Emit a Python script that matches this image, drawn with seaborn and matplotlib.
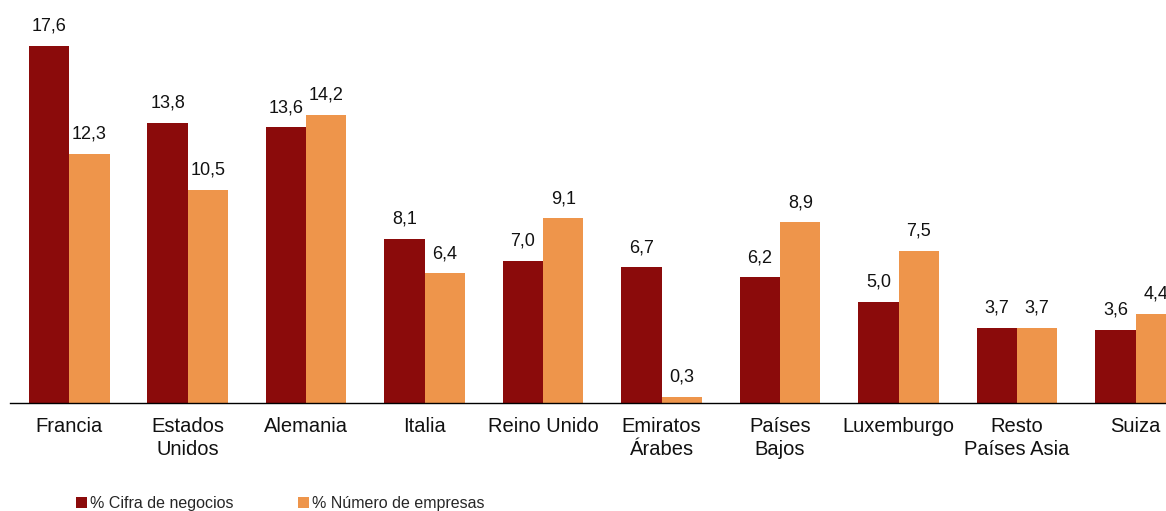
import matplotlib
matplotlib.use("Agg")
import matplotlib.pyplot as plt
import pandas as pd
import seaborn as sns

# ── Data ──────────────────────────────────────────────────────────────────────
categories = ["Francia", "Estados\nUnidos", "Alemania", "Italia", "Reino Unido",
              "Emiratos\nÁrabes", "Países\nBajos", "Luxemburgo", "Resto\nPaíses Asia", "Suiza"]
cifra_negocios = [17.6, 13.8, 13.6, 8.1, 7.0, 6.7, 6.2, 5.0, 3.7, 3.6]
numero_empresas = [12.3, 10.5, 14.2, 6.4, 9.1, 0.3, 8.9, 7.5, 3.7, 4.4]
series_names = ["% Cifra de negocios", "% Número de empresas"]

PALETTE = {series_names[0]: "#8B0B0B", series_names[1]: "#EE954B"}

df = pd.DataFrame({
    "pais": categories * 2,
    "valor": cifra_negocios + numero_empresas,
    "serie": [series_names[0]] * len(categories) + [series_names[1]] * len(categories),
})

# ── Plot ──────────────────────────────────────────────────────────────────────
sns.set_theme(style="white")
plt.rcParams["font.family"] = ["Liberation Sans", "DejaVu Sans"]

fig = plt.figure(figsize=(11.66, 5.11), dpi=100)
ax = fig.add_axes([10 / 1166, 108 / 511, 1156 / 1166, 403 / 511])

sns.barplot(data=df, x="pais", y="valor", hue="serie", order=categories,
            hue_order=series_names, palette=PALETTE, width=0.68, gap=0,
            saturation=1, linewidth=0, ax=ax, legend=True)

for cont in ax.containers:
    ax.bar_label(cont, labels=[f"{v:.1f}".replace(".", ",") for v in cont.datavalues],
                 padding=8, fontsize=13, color="#111111")

ax.set_xlim(-0.5, 9.257)
ax.set_ylim(0, 19.87)
ax.set_xlabel("")
ax.set_ylabel("")
ax.set_yticks([])
ax.tick_params(axis="x", length=0, pad=10, labelsize=14.5, colors="#111111")
for lbl in ax.get_xticklabels():
    lbl.set_linespacing(1.25)
for side in ["top", "left", "right"]:
    ax.spines[side].set_visible(False)
ax.spines["bottom"].set_color("black")
ax.spines["bottom"].set_linewidth(1.0)

ax.legend(loc="lower left", bbox_to_anchor=(66 / 1156, -108 / 403), ncol=2,
          frameon=False, fontsize=11.5, handlelength=0.7, handleheight=0.7,
          handletextpad=0.2, columnspacing=4.0, borderaxespad=0, borderpad=0)

fig.savefig("out.png", dpi=100)
plt.close(fig)
